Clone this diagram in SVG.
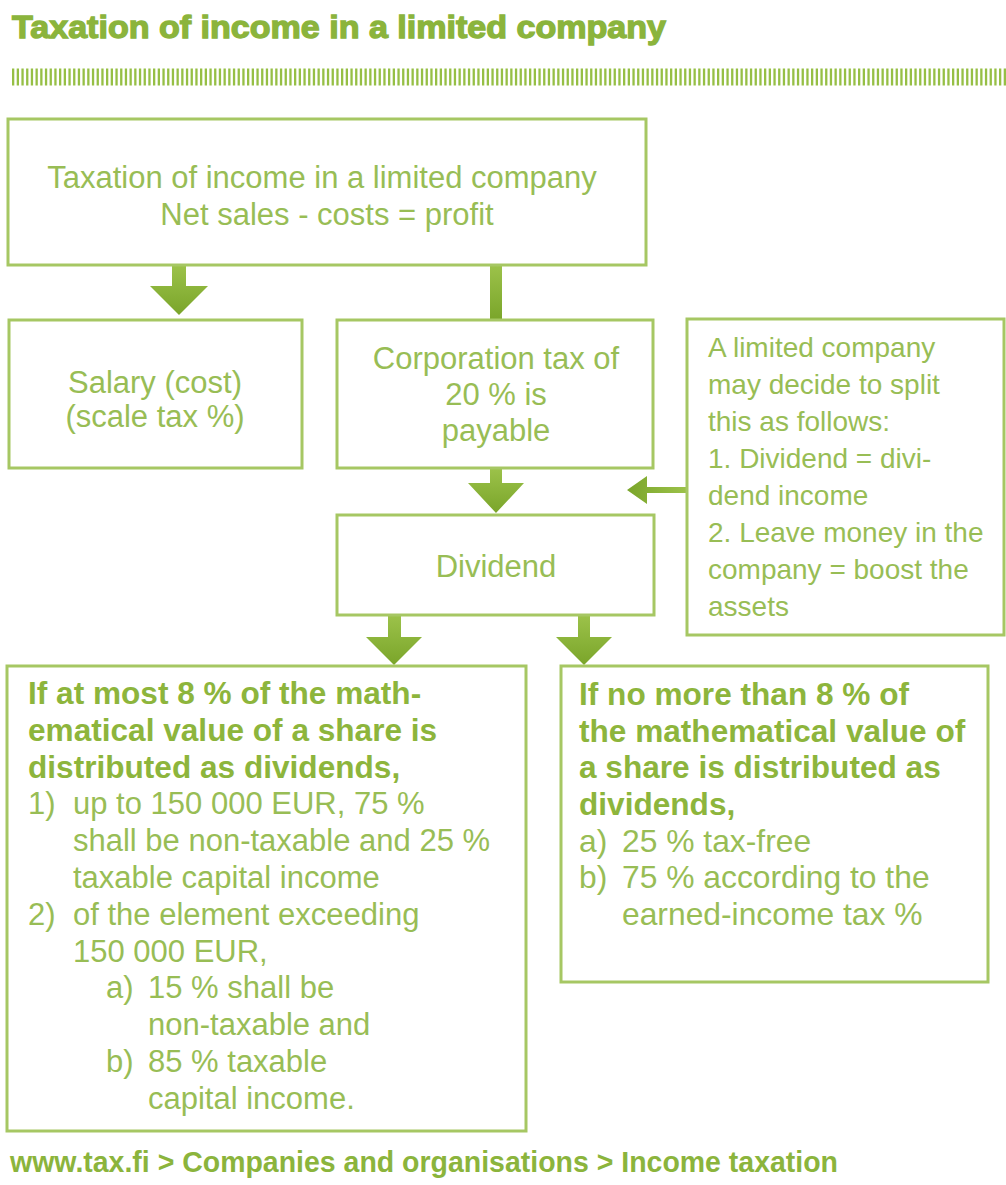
<svg xmlns="http://www.w3.org/2000/svg" width="1006" height="1185" viewBox="0 0 1006 1185">
  <style>
    .box { fill: #ffffff; stroke: #a6c763; stroke-width: 3; }
    .txt { font-family: "Liberation Sans", Arial, sans-serif; font-size: 31px; fill: #98bd55; }
    .bold { font-weight: bold; fill: #8db53c; font-size: 31.6px; }
    .mid { text-anchor: middle; }
    .note { font-size: 28px; }
    .wide { font-size: 31.8px; }
    .arrow { fill: url(#arrowGrad); }
    .heading { font-family: "Liberation Sans", Arial, sans-serif; font-weight: bold; fill: #8bb43c; }
  </style>
  <defs>
    <linearGradient id="arrowGrad" x1="0" y1="0" x2="0" y2="1">
      <stop offset="0" stop-color="#9cc24a"/>
      <stop offset="1" stop-color="#7aa52a"/>
    </linearGradient>
    <linearGradient id="arrowGradH" x1="1" y1="0" x2="0" y2="0">
      <stop offset="0" stop-color="#9cc24a"/>
      <stop offset="1" stop-color="#7aa52a"/>
    </linearGradient>
  </defs>

  <rect width="1006" height="1185" fill="#ffffff"/>

  <!-- heading and tick rule -->
  <g id="heading">
    <text class="heading" x="12" y="38" font-size="31" stroke="#8bb43c" stroke-width="1.3" textLength="654" lengthAdjust="spacingAndGlyphs">Taxation of income in a limited company</text>
    <line x1="12" y1="77" x2="1006" y2="77" stroke="#96bf45" stroke-width="17" stroke-dasharray="2.3 2.4"/>
  </g>

  <!-- connectors -->
  <g id="connectors">
    <path class="arrow" d="M172,265 H186 V286 H208 L179,315 L150,286 H172 Z"/>
    <rect class="arrow" x="490" y="265" width="12" height="55"/>
    <path class="arrow" d="M490,468 H502 V483 H524 L496,513 L468,483 H490 Z"/>
    <path class="arrow" d="M388,615 H401 V637 H422 L394,665 L366,637 H388 Z"/>
    <path class="arrow" d="M578,615 H590 V637 H612 L584,665 L556,637 H578 Z"/>
    <path fill="url(#arrowGradH)" d="M687,487 V493 H647 V504 L627,490 L647,476 V487 Z"/>
  </g>

  <g id="node-profit">
    <rect class="box" x="8" y="119" width="638" height="146"/>
    <text class="txt mid" x="322" y="188" font-size="33">Taxation of income in a limited company</text>
    <text class="txt mid" x="327" y="225" font-size="33">Net sales - costs = profit</text>
  </g>

  <g id="node-salary">
    <rect class="box" x="9" y="320" width="293" height="148"/>
    <text class="txt mid" x="155" y="393" font-size="30">Salary (cost)</text>
    <text class="txt mid" x="155" y="427" font-size="30">(scale tax %)</text>
  </g>

  <g id="node-corporation-tax">
    <rect class="box" x="337" y="320" width="316" height="148"/>
    <text class="txt mid" x="496" y="369" font-size="32">Corporation tax of</text>
    <text class="txt mid" x="496" y="405" font-size="32">20 % is</text>
    <text class="txt mid" x="496" y="441" font-size="32">payable</text>
  </g>

  <g id="node-split">
    <rect class="box" x="687" y="319" width="317" height="316"/>
    <text class="txt note" x="708" y="357">A limited company</text>
    <text class="txt note" x="708" y="394">may decide to split</text>
    <text class="txt note" x="708" y="431">this as follows:</text>
    <text class="txt note" x="708" y="468">1. Dividend = divi-</text>
    <text class="txt note" x="708" y="505">dend income</text>
    <text class="txt note" x="708" y="542">2. Leave money in the</text>
    <text class="txt note" x="708" y="579">company = boost the</text>
    <text class="txt note" x="708" y="616">assets</text>
  </g>

  <g id="node-dividend">
    <rect class="box" x="337" y="515" width="317" height="100"/>
    <text class="txt mid" x="496" y="577">Dividend</text>
  </g>

  <g id="node-up-to-8">
    <rect class="box" x="7" y="666" width="519" height="465"/>
    <text class="txt bold" x="28" y="704">If at most 8 % of the math-</text>
    <text class="txt bold" x="28" y="741">ematical value of a share is</text>
    <text class="txt bold" x="28" y="778">distributed as dividends,</text>
    <text class="txt" x="28" y="814">1)</text>
    <text class="txt" x="73" y="814">up to 150 000 EUR, 75 %</text>
    <text class="txt" x="73" y="851">shall be non-taxable and 25 %</text>
    <text class="txt" x="73" y="888">taxable capital income</text>
    <text class="txt" x="28" y="925">2)</text>
    <text class="txt" x="73" y="925">of the element exceeding</text>
    <text class="txt" x="73" y="962">150 000 EUR,</text>
    <text class="txt" x="106" y="998">a)</text>
    <text class="txt" x="148" y="998">15 % shall be</text>
    <text class="txt" x="148" y="1035">non-taxable and</text>
    <text class="txt" x="106" y="1072">b)</text>
    <text class="txt" x="148" y="1072">85 % taxable</text>
    <text class="txt" x="148" y="1109">capital income.</text>
  </g>

  <g id="node-no-more-than-8">
    <rect class="box" x="561" y="666" width="427" height="316"/>
    <text class="txt bold" x="579" y="705">If no more than 8 % of</text>
    <text class="txt bold" x="579" y="742">the mathematical value of</text>
    <text class="txt bold" x="579" y="778">a share is distributed as</text>
    <text class="txt bold" x="579" y="815">dividends,</text>
    <text class="txt wide" x="579" y="852">a)</text>
    <text class="txt wide" x="622" y="852">25 % tax-free</text>
    <text class="txt wide" x="579" y="888">b)</text>
    <text class="txt wide" x="622" y="888">75 % according to the</text>
    <text class="txt wide" x="622" y="925">earned-income tax %</text>
  </g>

  <g id="footer">
    <text class="heading" x="10" y="1172" font-size="29" textLength="828" lengthAdjust="spacingAndGlyphs">www.tax.fi &gt; Companies and organisations &gt; Income taxation</text>
  </g>
</svg>
